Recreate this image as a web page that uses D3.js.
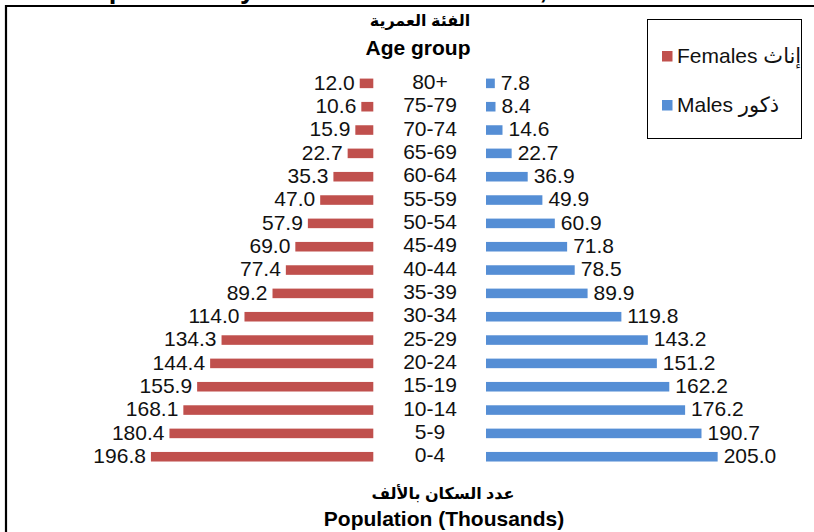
<!DOCTYPE html>
<html>
<head>
<meta charset="utf-8">
<script src="https://cdn.jsdelivr.net/npm/d3@7"></script>
<style>
  body { margin: 0; background: #fff; }
  svg { display: block; font-family: "Liberation Sans", Arial, "DejaVu Sans", sans-serif; }
  .axis .domain { display: none; }
  .axis line { display: none; }
</style>
</head>
<body>
<script>
/********************************************************/
// chart data (thousands), from youngest to oldest
const ageGroups = ["0-4", "5-9", "10-14", "15-19", "20-24", "25-29", "30-34", "35-39",
  "40-44", "45-49", "50-54", "55-59", "60-64", "65-69", "70-74", "75-79", "80+"];
const females = [196.8, 180.4, 168.1, 155.9, 144.4, 134.3, 114.0, 89.2,
  77.4, 69.0, 57.9, 47.0, 35.3, 22.7, 15.9, 10.6, 12.0];
const males = [205.0, 190.7, 176.2, 162.2, 151.2, 143.2, 119.8, 89.9,
  78.5, 71.8, 60.9, 49.9, 36.9, 22.7, 14.6, 8.4, 7.8];
const legendLabels = ["Females إناث", "Males ذكور"];

/********************************************************/
const svgWidth = 814;
const svgHeight = 532;
const red = "#C0504D";
const blue = "#558ED5";

const data = ageGroups.map((a, i) => ({ age: a, f: females[i], m: males[i] }));

const svg = d3.select("body")
  .append("svg")
  .attr("width", svgWidth)
  .attr("height", svgHeight);

/************** frame + cut-off title ************/
svg.append("text")
  .text("Population by Governorate and Sex, 2020")
  .attr("x", 73.5)
  .attr("y", -2)
  .attr("font-size", "27.5px")
  .attr("font-weight", "bold");

svg.append("path")
  .attr("d", "M6,532 V6 H814")
  .attr("fill", "none")
  .attr("stroke", "#000")
  .attr("stroke-width", 2.2);

/************** scales ************/
const yScale = d3.scaleBand()
  .domain(ageGroups.slice().reverse())
  .range([71.7, 468.4])
  .paddingInner(0.59)
  .paddingOuter(0.295);

const xFemale = d3.scaleLinear().domain([0, 250]).range([373.3, 373.3 - 282.5]);
const xMale = d3.scaleLinear().domain([0, 250]).range([486, 486 + 282.5]);

/************** bars ************/
svg.selectAll(".fbar")
  .data(data)
  .enter()
  .append("rect")
  .classed("fbar", true)
  .attr("x", (d) => xFemale(d.f))
  .attr("y", (d) => yScale(d.age))
  .attr("width", (d) => xFemale(0) - xFemale(d.f))
  .attr("height", yScale.bandwidth())
  .attr("fill", red);

svg.selectAll(".mbar")
  .data(data)
  .enter()
  .append("rect")
  .classed("mbar", true)
  .attr("x", xMale(0))
  .attr("y", (d) => yScale(d.age))
  .attr("width", (d) => xMale(d.m) - xMale(0))
  .attr("height", yScale.bandwidth())
  .attr("fill", blue);

/************** value labels ************/
const mid = (d) => yScale(d.age) + yScale.bandwidth() / 2 - 1;

svg.selectAll(".flabel")
  .data(data)
  .enter()
  .append("text")
  .classed("flabel", true)
  .text((d) => d.f.toFixed(1))
  .attr("x", (d) => xFemale(d.f) - 5)
  .attr("y", mid)
  .attr("dy", "0.35em")
  .attr("text-anchor", "end")
  .attr("font-size", "21px")
  .attr("fill", "#111");

svg.selectAll(".mlabel")
  .data(data)
  .enter()
  .append("text")
  .classed("mlabel", true)
  .text((d) => d.m.toFixed(1))
  .attr("x", (d) => xMale(d.m) + 6)
  .attr("y", mid)
  .attr("dy", "0.35em")
  .attr("font-size", "21px")
  .attr("fill", "#111");

/************** age group axis in the middle ************/
svg.append("g")
  .classed("axis", true)
  .attr("transform", "translate(430,-1)")
  .call(d3.axisLeft(yScale).tickSize(0).tickPadding(0))
  .selectAll("text")
  .attr("text-anchor", "middle")
  .attr("font-size", "21px")
  .attr("font-family", "Liberation Sans, Arial, sans-serif")
  .attr("fill", "#111");

/************** axis titles ************/
svg.append("text")
  .text("الفئة العمرية")
  .attr("x", 420)
  .attr("y", 26)
  .attr("text-anchor", "middle")
  .attr("font-size", "16px")
  .attr("font-weight", "bold");

svg.append("text")
  .text("Age group")
  .attr("x", 418)
  .attr("y", 55)
  .attr("text-anchor", "middle")
  .attr("font-size", "21px")
  .attr("font-weight", "bold");

svg.append("text")
  .text("عدد السكان بالألف")
  .attr("x", 443)
  .attr("y", 499)
  .attr("text-anchor", "middle")
  .attr("font-size", "16px")
  .attr("font-weight", "bold");

svg.append("text")
  .text("Population (Thousands)")
  .attr("x", 444)
  .attr("y", 526)
  .attr("text-anchor", "middle")
  .attr("font-size", "21px")
  .attr("font-weight", "bold");

/************** legend ************/
const legend = svg.append("g");

legend.append("rect")
  .attr("x", 647.5)
  .attr("y", 19.5)
  .attr("width", 154)
  .attr("height", 119)
  .attr("fill", "#fff")
  .attr("stroke", "#000")
  .attr("stroke-width", 1);

const legendItems = legend.selectAll(".litem")
  .data(legendLabels)
  .enter()
  .append("g")
  .classed("litem", true)
  .attr("transform", (d, i) => `translate(662,${56 + i * 49})`);

legendItems.append("rect")
  .attr("x", 0)
  .attr("y", -5)
  .attr("width", 10.5)
  .attr("height", 10.5)
  .attr("fill", (d, i) => (i === 0 ? red : blue));

legendItems.append("text")
  .text((d) => d)
  .attr("x", 15)
  .attr("y", 0)
  .attr("dy", "0.35em")
  .attr("font-size", "21px")
  .attr("fill", "#111");
</script>
</body>
</html>
